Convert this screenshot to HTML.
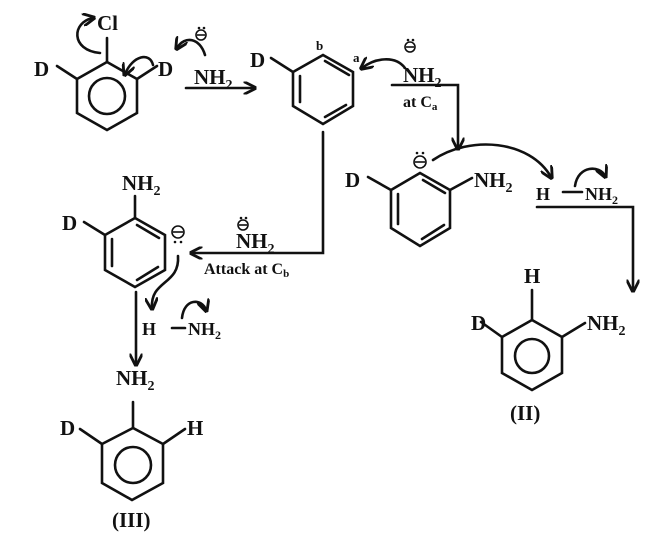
<!DOCTYPE html>
<html><head><meta charset="utf-8"><style>
html,body{margin:0;padding:0;background:#fff;}
svg{display:block;}
text{font-family:"Liberation Serif",serif;font-weight:bold;fill:#111;}
</style></head><body>
<svg width="664" height="549" viewBox="0 0 664 549" xmlns="http://www.w3.org/2000/svg">
<defs>
<marker id="ah" viewBox="0 0 10 10" refX="8" refY="5" markerWidth="5" markerHeight="5" orient="auto-start-reverse">
<path d="M0,0 L10,5 L0,10" fill="none" stroke="#111" stroke-width="2.2"/>
</marker>
</defs>
<g stroke="#111" stroke-width="2.6" fill="none" stroke-linecap="round">
<polygon points="107,62 77,79 77,113 107,130 137,113 137,79"/>
<circle cx="107" cy="96" r="18"/>
<line x1="107" y1="62" x2="107" y2="38"/>
<line x1="77" y1="79" x2="57" y2="66"/>
<line x1="137" y1="79" x2="157" y2="66"/>
<path d="M100,53 C70,50 72,22 93,18" marker-end="url(#ah)"/>
<path d="M153,65 C150,52 133,55 125,74" marker-end="url(#ah)"/>
<path d="M205,55 C200,38 185,35 177,48" marker-end="url(#ah)"/>
<line x1="186" y1="88" x2="254" y2="88" marker-end="url(#ah)"/>
<polygon points="323,55 293,72 293,106 323,124 353,106 353,72"/>
<line x1="325" y1="61" x2="349" y2="75"/>
<line x1="300" y1="76" x2="300" y2="102"/>
<line x1="325" y1="117" x2="346" y2="105"/>
<line x1="293" y1="72" x2="271" y2="58"/>
<path d="M405,68 C395,55 375,58 362,68" marker-end="url(#ah)"/>
<polyline points="323,132 323,253 192,253" marker-end="url(#ah)"/>
<polyline points="392,85 458,85 458,148" marker-end="url(#ah)"/>
<polygon points="420,173 391,190 391,228 420,246 450,228 450,190"/>
<line x1="423" y1="180" x2="445" y2="193"/>
<line x1="398" y1="194" x2="398" y2="224"/>
<line x1="422" y1="239" x2="444" y2="225"/>
<line x1="391" y1="190" x2="368" y2="177"/>
<line x1="450" y1="190" x2="472" y2="178"/>
<path d="M433,160 C470,135 530,140 551,177" marker-end="url(#ah)"/>
<line x1="563" y1="192" x2="582" y2="192"/>
<path d="M575,186 C578,165 600,165 605,176" marker-end="url(#ah)"/>
<polyline points="537,207 633,207 633,290" marker-end="url(#ah)"/>
<polygon points="532,320 502,337 502,373 532,390 562,373 562,337"/>
<circle cx="532" cy="356" r="17"/>
<line x1="532" y1="320" x2="532" y2="290"/>
<line x1="502" y1="337" x2="481" y2="322"/>
<line x1="562" y1="337" x2="585" y2="323"/>
<polygon points="135,218 105,235 105,270 135,287 165,270 165,235"/>
<line x1="137" y1="225" x2="159" y2="238"/>
<line x1="112" y1="239" x2="112" y2="266"/>
<line x1="137" y1="280" x2="158" y2="267"/>
<line x1="135" y1="218" x2="135" y2="196"/>
<line x1="105" y1="235" x2="84" y2="222"/>
<path d="M178,256 C180,285 150,280 152,308" marker-end="url(#ah)"/>
<line x1="172" y1="328" x2="185" y2="328"/>
<path d="M182,318 C184,298 202,298 206,310" marker-end="url(#ah)"/>
<line x1="136" y1="292" x2="136" y2="364" marker-end="url(#ah)"/>
<polygon points="133,428 102,444 102,483 132,500 163,483 163,444"/>
<circle cx="133" cy="465" r="18"/>
<line x1="133" y1="428" x2="133" y2="402"/>
<line x1="102" y1="444" x2="80" y2="429"/>
<line x1="163" y1="444" x2="185" y2="429"/>
</g>
<g stroke="#111" stroke-width="1.6" fill="none">
<circle cx="201" cy="35" r="5"/><line x1="197" y1="35" x2="205" y2="35"/>
<circle cx="410" cy="47" r="5"/><line x1="406" y1="47" x2="414" y2="47"/>
<circle cx="420" cy="162" r="6"/><line x1="415" y1="162" x2="425" y2="162"/>
<circle cx="178" cy="232" r="6"/><line x1="173" y1="232" x2="183" y2="232"/>
<circle cx="243" cy="225" r="5"/><line x1="239" y1="225" x2="247" y2="225"/>
</g>
<g fill="#111">
<circle cx="199" cy="28" r="1.3"/><circle cx="204" cy="28" r="1.3"/>
<circle cx="408" cy="40" r="1.3"/><circle cx="413" cy="40" r="1.3"/>
<circle cx="417" cy="153" r="1.3"/><circle cx="423" cy="153" r="1.3"/>
<circle cx="175" cy="242" r="1.3"/><circle cx="181" cy="242" r="1.3"/>
<circle cx="241" cy="218" r="1.3"/><circle cx="246" cy="218" r="1.3"/>
</g>
<g font-size="21">
<text x="97" y="30">Cl</text>
<text x="34" y="76">D</text>
<text x="158" y="76">D</text>
<text x="194" y="84">NH<tspan font-size="14" dy="5">2</tspan></text>
<text x="250" y="67">D</text>
<text x="403" y="82">NH<tspan font-size="14" dy="5">2</tspan></text>
<text x="345" y="187">D</text>
<text x="474" y="187">NH<tspan font-size="14" dy="5">2</tspan></text>
<text x="471" y="330">D</text>
<text x="587" y="330">NH<tspan font-size="14" dy="5">2</tspan></text>
<text x="524" y="283">H</text>
<text x="510" y="420">(II)</text>
<text x="122" y="190">NH<tspan font-size="14" dy="5">2</tspan></text>
<text x="62" y="230">D</text>
<text x="236" y="248">NH<tspan font-size="14" dy="5">2</tspan></text>
<text x="116" y="385">NH<tspan font-size="14" dy="5">2</tspan></text>
<text x="60" y="435">D</text>
<text x="187" y="435">H</text>
<text x="112" y="527">(III)</text>
</g>
<g font-size="18">
<text x="536" y="200">H</text>
<text x="585" y="200">NH<tspan font-size="12" dy="4">2</tspan></text>
<text x="142" y="335">H</text>
<text x="188" y="335">NH<tspan font-size="12" dy="4">2</tspan></text>
<text x="316" y="50" font-size="13">b</text>
<text x="353" y="62" font-size="13">a</text>
<text x="403" y="107" font-size="16">at C<tspan font-size="11" dy="3">a</tspan></text>
<text x="204" y="274" font-size="16">Attack at C<tspan font-size="11" dy="3">b</tspan></text>
</g>
</svg>
</body></html>
